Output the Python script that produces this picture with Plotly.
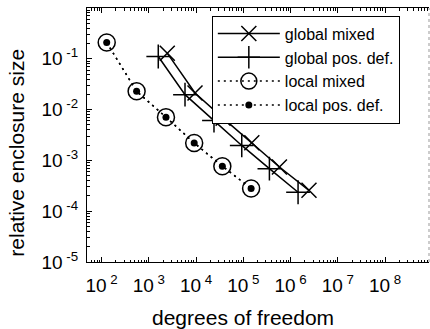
import plotly.graph_objects as go

# Degrees of freedom and relative enclosure size per refinement level
dof_global_mixed = [2450, 9480, 37200, 151000, 580000, 2450000]
rel_global_mixed = [0.129, 0.0212, 0.0068, 0.00222, 7.4e-4, 2.58e-4]

dof_global_pd = [1580, 5820, 23900, 92500, 356000, 1440000]
rel_global_pd = [0.111, 0.0197, 0.00608, 0.00197, 6.87e-4, 2.36e-4]

dof_local = [128, 550, 2300, 9100, 35900, 146000]
rel_local_mixed = [0.209, 0.0229, 0.0071, 0.0022, 7.7e-4, 2.8e-4]
rel_local_pd = [0.209, 0.0229, 0.0071, 0.0022, 7.7e-4, 2.8e-4]

x_tick_vals = [1e2, 1e3, 1e4, 1e5, 1e6, 1e7, 1e8]
x_tick_text = ["10<sup> 2</sup>", "10<sup> 3</sup>", "10<sup> 4</sup>", "10<sup> 5</sup>",
               "10<sup> 6</sup>", "10<sup> 7</sup>", "10<sup> 8</sup>"]
y_tick_vals = [1e-5, 1e-4, 1e-3, 1e-2, 1e-1]
y_tick_text = ["10<sup> -5</sup>", "10<sup> -4</sup>", "10<sup> -3</sup>",
               "10<sup> -2</sup>", "10<sup> -1</sup>"]

FONT = "Liberation Sans, Arial, Helvetica, sans-serif"

def minor_ticks(lo_exp, hi_exp):
    vals = []
    for e in range(lo_exp, hi_exp):
        for m in range(2, 10):
            vals.append(m * 10.0 ** e)
    return vals

fig = go.Figure()

fig.add_trace(go.Scatter(
    x=dof_global_mixed, y=rel_global_mixed, name="global mixed",
    mode="lines+markers",
    line=dict(color="black", width=1.5),
    marker=dict(symbol="x-thin", size=15, line=dict(color="black", width=1.5)),
))
fig.add_trace(go.Scatter(
    x=dof_global_pd, y=rel_global_pd, name="global pos. def.",
    mode="lines+markers",
    line=dict(color="black", width=1.5),
    marker=dict(symbol="cross-thin", size=17, line=dict(color="black", width=1.5)),
))
fig.add_trace(go.Scatter(
    x=dof_local, y=rel_local_mixed, name="local mixed",
    mode="lines+markers",
    line=dict(color="black", width=1.5, dash="2px,4px"),
    marker=dict(symbol="circle-open", size=17, color="black", line=dict(width=1.5)),
))
fig.add_trace(go.Scatter(
    x=dof_local, y=rel_local_pd, name="local pos. def.",
    mode="lines+markers",
    line=dict(color="black", width=1.5, dash="2px,4px"),
    marker=dict(symbol="circle", size=7, color="black"),
))

# dotted right-hand frame edge
fig.add_shape(type="line", xref="paper", yref="paper", x0=1, x1=1, y0=0, y1=1,
              line=dict(color="#999999", width=1, dash="dot"))

fig.add_annotation(text="degrees of freedom", xref="paper", yref="paper",
                   x=0.456, y=-0.165, xanchor="center", yanchor="top",
                   showarrow=False, font=dict(family=FONT, size=21, color="black"))
fig.add_annotation(text="relative enclosure size", xref="paper", yref="paper",
                   x=-0.205, y=0.43, xanchor="center", yanchor="middle", textangle=-90,
                   showarrow=False, font=dict(family=FONT, size=21, color="black"))

fig.update_layout(
    width=430, height=329,
    margin=dict(l=87, r=1, t=8, b=67),
    paper_bgcolor="white", plot_bgcolor="white",
    font=dict(family=FONT, size=19, color="black"),
    showlegend=True,
    legend=dict(
        x=0.365, y=0.97, xanchor="left", yanchor="top",
        bgcolor="white", bordercolor="black", borderwidth=1,
        font=dict(family=FONT, size=16, color="black"),
        itemwidth=62, tracegroupgap=0,
    ),
    xaxis=dict(
        type="log", range=[1.69, 8.93],
        tickmode="array", tickvals=x_tick_vals, ticktext=x_tick_text,
        ticks="inside", ticklen=5, tickwidth=1, tickcolor="black",
        ticklabelstandoff=6,
        showline=True, linecolor="black", linewidth=1, mirror="ticks",
        showgrid=False, zeroline=False,
        minor=dict(tickmode="array", tickvals=minor_ticks(1, 9),
                   ticks="inside", ticklen=2.5, tickcolor="black", showgrid=False),
    ),
    yaxis=dict(
        type="log", range=[-5, 0],
        tickmode="array", tickvals=y_tick_vals, ticktext=y_tick_text,
        ticks="inside", ticklen=5, tickwidth=1, tickcolor="black",
        ticklabelstandoff=4,
        showline=True, linecolor="black", linewidth=1, mirror=False,
        showgrid=False, zeroline=False,
        minor=dict(tickmode="array", tickvals=minor_ticks(-5, 0),
                   ticks="inside", ticklen=2.5, tickcolor="black", showgrid=False),
    ),
)

fig.write_html("out.html")
